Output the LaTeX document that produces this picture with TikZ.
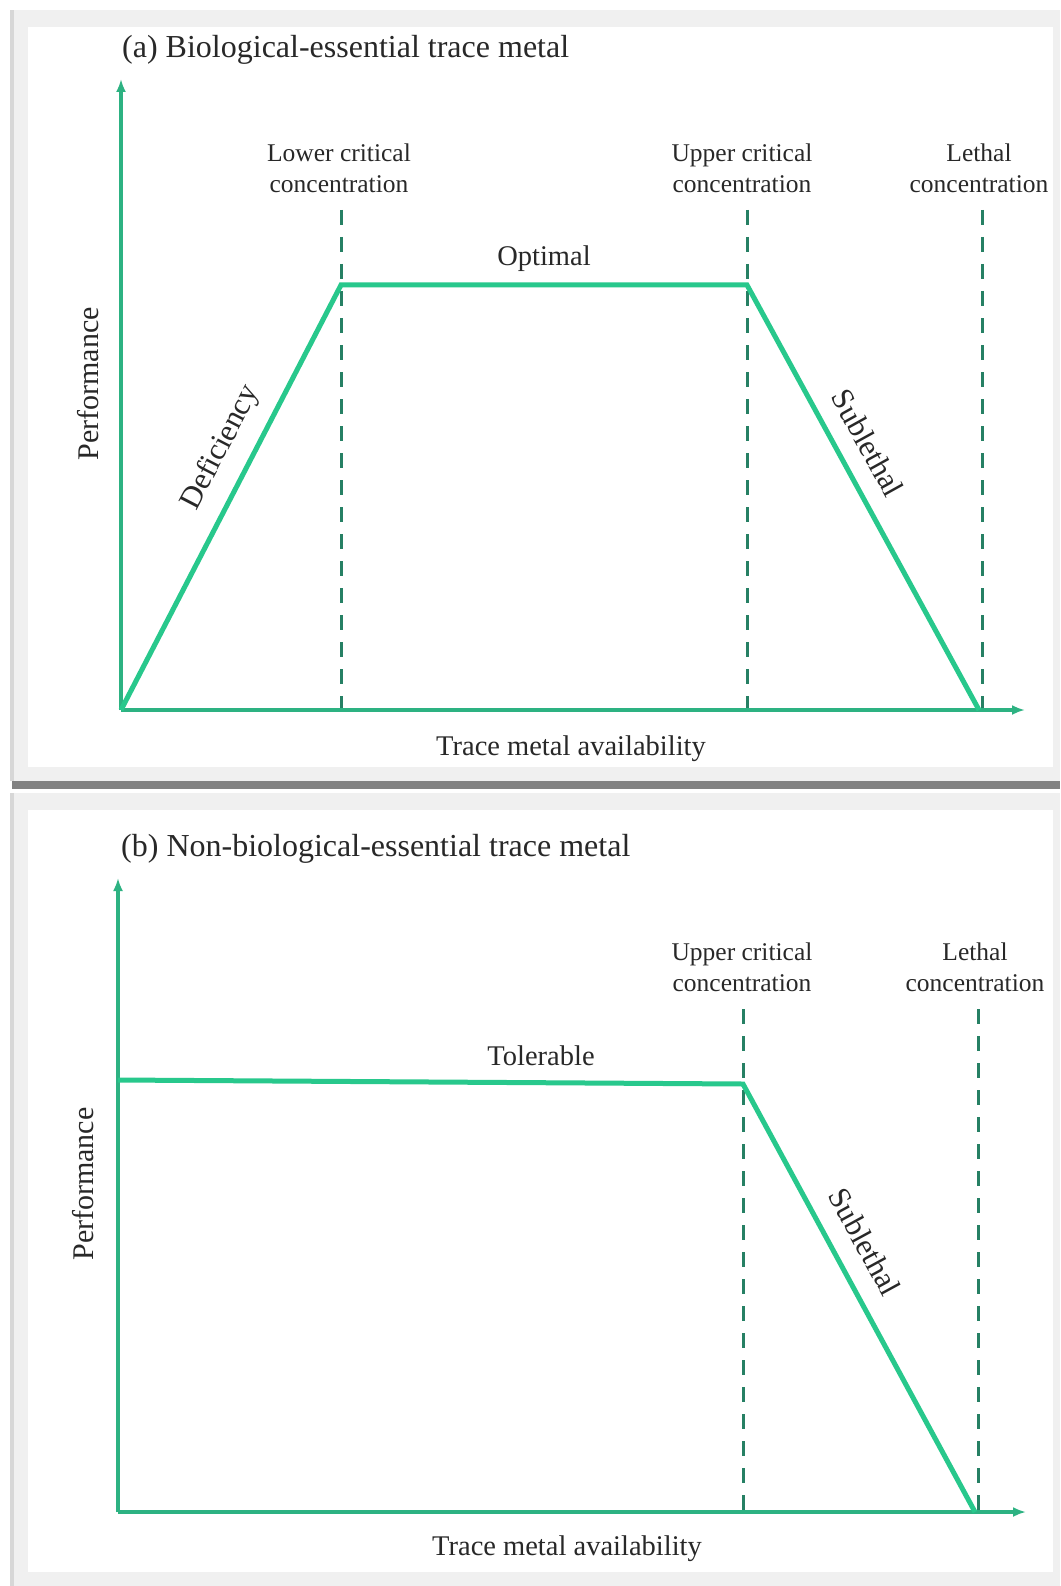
\documentclass[tikz,border=0pt]{standalone}
\usepackage{fontspec}
\setmainfont{Liberation Serif}
\usetikzlibrary{arrows.meta}
\definecolor{curvegreen}{RGB}{40,200,140}
\definecolor{axisgreen}{RGB}{45,178,130}
\definecolor{dashgreen}{RGB}{38,128,100}
\definecolor{txt}{RGB}{40,40,40}
\definecolor{bandgray}{RGB}{240,240,240}
\definecolor{edgegray}{RGB}{215,215,215}
\definecolor{shadowgray}{RGB}{130,130,130}
\tikzset{
  axisline/.style={draw=axisgreen, line width=3.2pt, -{Latex[length=13pt,width=10pt]}},
  curveline/.style={draw=curvegreen, line width=5pt, line join=miter},
  dashline/.style={draw=dashgreen, line width=3pt, dash pattern=on 15pt off 12pt},
  lbl/.style={text=txt, inner sep=0pt, font=\fontsize{25.5}{31}\selectfont, align=center},
  axlbl/.style={text=txt, inner sep=0pt, font=\fontsize{28.5}{34}\selectfont},
  perflbl/.style={text=txt, inner sep=0pt, rotate=90, font=\fontsize{30}{36}\selectfont},
  ttl/.style={text=txt, inner sep=0pt, anchor=west, font=\fontsize{32}{38}\selectfont},
  slope/.style={text=txt, inner sep=0pt, font=\fontsize{31}{36}\selectfont},
}
\begin{document}
\begin{tikzpicture}[x=1pt,y=1pt]
\useasboundingbox (0,0) rectangle (1060,-1586);
\fill[white] (0,0) rectangle (1060,-1586);
% panel frames
\fill[bandgray] (10,-10) rectangle (1060,-781);
\fill[edgegray] (10,-10) rectangle (14,-781);
\fill[white] (28,-27) rectangle (1053,-767);
\fill[shadowgray] (12,-781) rectangle (1060,-789);
\fill[bandgray] (10,-793) rectangle (1060,-1586);
\fill[edgegray] (10,-793) rectangle (14,-1586);
\fill[white] (28,-810) rectangle (1053,-1572);

% ---------- panel (a) ----------
\coordinate (aO) at (121,-710);
\coordinate (aY) at (121,-79);
\coordinate (aX) at (1025,-710);
\coordinate (aL) at (341,-285);
\coordinate (aU) at (747,-285);
\coordinate (aE) at (979,-710);
\coordinate (aLt) at (341,-210);
\coordinate (aLb) at (341,-710);
\coordinate (aUt) at (747,-210);
\coordinate (aUb) at (747,-710);
\coordinate (aDt) at (982,-210);
\coordinate (aDb) at (982,-710);

\draw[dashline] (aLt) -- (aLb);
\draw[dashline] (aUt) -- (aUb);
\draw[dashline] (aDt) -- (aDb);
\draw[axisline] (aO) -- (aY);
\draw[axisline] (aO) -- (aX);
\draw[curveline] (aO) -- (aL) -- (aU) -- (aE);

\node[ttl] (aTitle) at (122,-50) {(a) Biological-essential trace metal};
\node[lbl] (aLow) at (339,-168) {Lower critical\\concentration};
\node[lbl] (aUpp) at (742,-168) {Upper critical\\concentration};
\node[lbl] (aLeth) at (979,-168) {Lethal\\concentration};
\node[axlbl] (aOpt) at (544,-259) {Optimal};
\node[perflbl] (aPerf) at (88,-384) {Performance};
\node[axlbl] (aTrace) at (571,-749) {Trace metal availability};
\node[slope, rotate=62.6] (aDef) at (221,-448) {Deficiency};
\node[slope, rotate=-61] (aSub) at (868,-443) {Sublethal};

% ---------- panel (b) ----------
\coordinate (bO) at (118,-1512);
\coordinate (bY) at (118,-878);
\coordinate (bX) at (1026,-1512);
\coordinate (bS) at (118,-1080);
\coordinate (bU) at (743,-1084);
\coordinate (bE) at (975,-1512);
\coordinate (bUt) at (743,-1009);
\coordinate (bUb) at (743,-1512);
\coordinate (bDt) at (978,-1009);
\coordinate (bDb) at (978,-1512);

\draw[dashline] (bUt) -- (bUb);
\draw[dashline] (bDt) -- (bDb);
\draw[axisline] (bO) -- (bY);
\draw[axisline] (bO) -- (bX);
\draw[curveline] (bS) -- (bU) -- (bE);

\node[ttl] (bTitle) at (121,-849) {(b) Non-biological-essential trace metal};
\node[lbl] (bUpp) at (742,-967) {Upper critical\\concentration};
\node[lbl] (bLeth) at (975,-967) {Lethal\\concentration};
\node[axlbl] (bTol) at (541,-1056) {Tolerable};
\node[perflbl] (bPerf) at (83,-1184) {Performance};
\node[axlbl] (bTrace) at (567,-1549) {Trace metal availability};
\node[slope, rotate=-61.4] (bSub) at (865,-1242) {Sublethal};
\end{tikzpicture}
\end{document}
